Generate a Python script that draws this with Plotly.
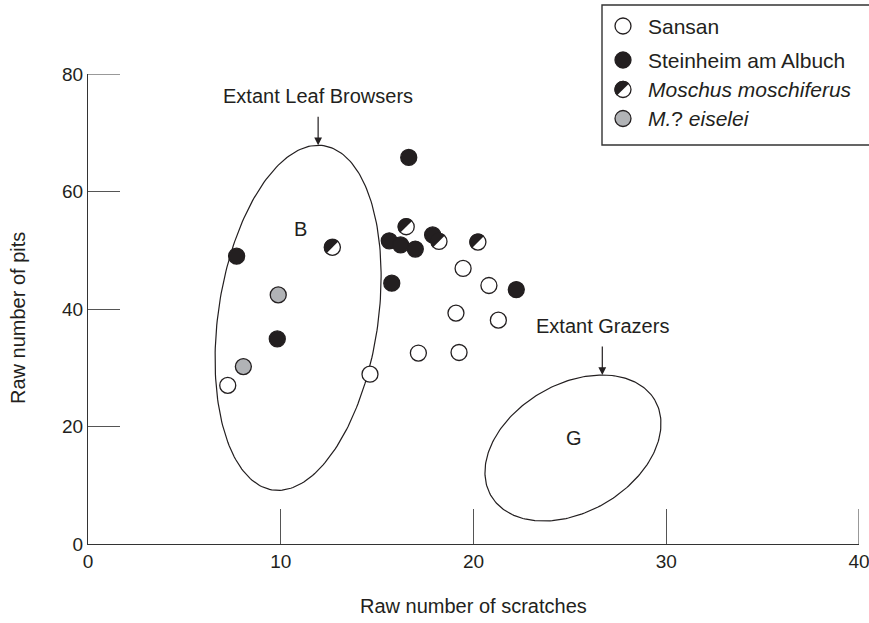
import numpy as np
import plotly.graph_objects as go

# ---------------- data ----------------
sansan_x = [7.25, 14.63, 17.14, 19.25, 19.09, 21.29, 19.46, 20.80]
sansan_y = [27.0, 28.9, 32.5, 32.6, 39.3, 38.1, 46.9, 44.0]

steinheim_x = [7.71, 9.82, 16.64, 15.63, 16.22, 16.98, 17.88, 15.76, 22.22]
steinheim_y = [49.0, 34.9, 65.8, 51.6, 50.9, 50.2, 52.6, 44.4, 43.3]

moschus_x = [12.68, 16.51, 18.21, 20.23]
moschus_y = [50.5, 54.0, 51.5, 51.4]

eiselei_x = [9.87, 8.06]
eiselei_y = [42.4, 30.2]

x_ticks = [0, 10, 20, 30, 40]
y_ticks = [0, 20, 40, 60, 80]

legend_labels = ["Sansan", "Steinheim am Albuch", "<i>Moschus moschiferus</i>", "<i>M.</i>? <i>eiselei</i>"]

# ellipses: centre and two conjugate semi-axis vectors (data units)
browser_ell = dict(cx=10.9, cy=38.5, ux=1.32, uy=29.3, vx=4.10, vy=-1.99)
grazer_ell = dict(cx=25.16, cy=16.34, ux=4.25, uy=8.14, vx=1.67, vy=-9.39)
browser_label = dict(x=11.0, y=53.6, text="B")
grazer_label = dict(x=25.23, y=18.1, text="G")

# ---------------- style ----------------
INK = "#231f20"
GRAY = "#b1b3b6"
TICKC = "#555555"
FONT = "Liberation Sans, Arial, Helvetica, sans-serif"
MSIZE = 16
MLINE = 1.3
FS = 20
XTL, YTL = 35, 32


def ellipse_xy(e, n=240):
    t = np.linspace(0, 2 * np.pi, n)
    x = e["cx"] + e["ux"] * np.cos(t) + e["vx"] * np.sin(t)
    y = e["cy"] + e["uy"] * np.cos(t) + e["vy"] * np.sin(t)
    return x, y


def ellipse_top(e):
    r = np.hypot(e["uy"], e["vy"])
    return e["cx"] + (e["ux"] * e["uy"] + e["vx"] * e["vy"]) / r, e["cy"] + r


def half_path(r):
    ang = np.linspace(np.pi / 4, np.pi / 4 + np.pi, 40)
    pts = ["%s%.3f,%.3f" % ("M" if i == 0 else "L", r * np.cos(a), r * np.sin(a)) for i, a in enumerate(ang)]
    return " ".join(pts) + " Z"


fig = go.Figure()

for e in (browser_ell, grazer_ell):
    ex, ey = ellipse_xy(e)
    fig.add_trace(go.Scatter(x=ex, y=ey, mode="lines", line=dict(color=INK, width=1.2),
                             hoverinfo="skip", showlegend=False))

fig.add_trace(go.Scatter(x=sansan_x, y=sansan_y, mode="markers", name="Sansan",
                         marker=dict(size=MSIZE, color="white", line=dict(color=INK, width=MLINE))))
fig.add_trace(go.Scatter(x=eiselei_x, y=eiselei_y, mode="markers", name="M.? eiselei",
                         marker=dict(size=MSIZE, color=GRAY, line=dict(color=INK, width=MLINE))))
fig.add_trace(go.Scatter(x=moschus_x, y=moschus_y, mode="markers", name="Moschus moschiferus",
                         marker=dict(size=MSIZE, color="white", line=dict(color=INK, width=MLINE))))
fig.add_trace(go.Scatter(x=steinheim_x, y=steinheim_y, mode="markers", name="Steinheim am Albuch",
                         marker=dict(size=MSIZE, color=INK, line=dict(color=INK, width=MLINE))))

shapes = []
R = MSIZE / 2 + MLINE / 2
hp = half_path(R)
for mx, my in zip(moschus_x, moschus_y):
    shapes.append(dict(type="path", xref="x", yref="y", xsizemode="pixel", ysizemode="pixel",
                       xanchor=mx, yanchor=my, path=hp, fillcolor=INK, line=dict(width=0),
                       layer="above"))

# end ticks (plotly drops inside ticks at the very ends of the range)
shapes.append(dict(type="line", xref="x", yref="y", x0=x_ticks[-1], x1=x_ticks[-1],
                   ysizemode="pixel", yanchor=y_ticks[0], y0=0, y1=XTL,
                   line=dict(color=TICKC, width=1.2)))
shapes.append(dict(type="line", xref="x", yref="y", y0=y_ticks[-1], y1=y_ticks[-1],
                   xsizemode="pixel", xanchor=x_ticks[0], x0=0, x1=YTL,
                   line=dict(color=TICKC, width=1.2)))

# ---------------- manual legend ----------------
L, W, T, H = 88, 771, 74, 470


def px(v):
    return (v - L) / W


def py(v):
    return (T + H - v) / H


shapes.append(dict(type="rect", xref="paper", yref="paper", x0=px(602), x1=px(880), y0=py(145), y1=py(5),
                   fillcolor="white", line=dict(color="#333333", width=1.4), layer="above"))
leg_y = [26, 60, 89.5, 118.5]
leg_fill = ["white", INK, "white", GRAY]
annotations = []
for lab, yy, fc in zip(legend_labels, leg_y, leg_fill):
    shapes.append(dict(type="circle", xref="paper", yref="paper", xsizemode="pixel", ysizemode="pixel",
                       xanchor=px(623), yanchor=py(yy), x0=-MSIZE / 2, x1=MSIZE / 2, y0=-MSIZE / 2, y1=MSIZE / 2,
                       fillcolor=fc, line=dict(color=INK, width=MLINE), layer="above"))
    annotations.append(dict(xref="paper", yref="paper", x=px(646), y=py(yy), text=lab, showarrow=False,
                            xanchor="left", yanchor="middle", font=dict(family=FONT, size=21, color=INK)))
shapes.append(dict(type="path", xref="paper", yref="paper", xsizemode="pixel", ysizemode="pixel",
                   xanchor=px(623), yanchor=py(leg_y[2]), path=hp, fillcolor=INK, line=dict(width=0),
                   layer="above"))

# ---------------- annotations ----------------
for e, txt, gap in ((browser_ell, "Extant Leaf Browsers", 49), (grazer_ell, "Extant Grazers", 49)):
    tx, ty = ellipse_top(e)
    annotations.append(dict(x=tx, y=ty, xref="x", yref="y", text="", showarrow=True, ax=0, ay=-30,
                            arrowhead=2, arrowsize=1.3, arrowwidth=1.2, arrowcolor=INK, standoff=0))
    annotations.append(dict(x=tx, y=ty, xref="x", yref="y", text=txt, showarrow=False, yshift=gap,
                            xanchor="center", yanchor="middle", font=dict(family=FONT, size=FS, color=INK)))
for lab in (browser_label, grazer_label):
    annotations.append(dict(x=lab["x"], y=lab["y"], xref="x", yref="y", text=lab["text"], showarrow=False,
                            font=dict(family=FONT, size=FS, color=INK)))

annotations.append(dict(xref="paper", yref="paper", x=0.5, y=py(606), text="Raw number of scratches",
                        showarrow=False, xanchor="center", yanchor="middle",
                        font=dict(family=FONT, size=FS, color=INK)))
annotations.append(dict(xref="paper", yref="paper", x=px(18), y=py(318), text="Raw number of pits",
                        showarrow=False, textangle=-90, xanchor="center", yanchor="middle",
                        font=dict(family=FONT, size=FS, color=INK)))

axis_common = dict(showgrid=False, zeroline=False, showline=True, linecolor="#333333", linewidth=1.3,
                   ticks="inside", tickcolor=TICKC, tickwidth=1.2, automargin=False,
                   ticklabeloverflow="allow",
                   tickfont=dict(family=FONT, size=19, color=INK))

fig.update_layout(
    width=869, height=623,
    margin=dict(l=L, r=869 - L - W, t=T, b=623 - T - H),
    paper_bgcolor="white", plot_bgcolor="white",
    showlegend=False,
    xaxis=dict(range=[0, 40], tickvals=x_ticks, ticktext=[str(v) for v in x_ticks], ticklen=XTL, **axis_common),
    yaxis=dict(range=[0, 80], tickvals=y_ticks, ticktext=[str(v) for v in y_ticks], ticklen=YTL, **axis_common),
    shapes=shapes,
    annotations=annotations,
)

fig.write_html("out.html", config={"displayModeBar": False},
               post_script="document.body.style.margin='0px';document.body.style.overflow='hidden';")
